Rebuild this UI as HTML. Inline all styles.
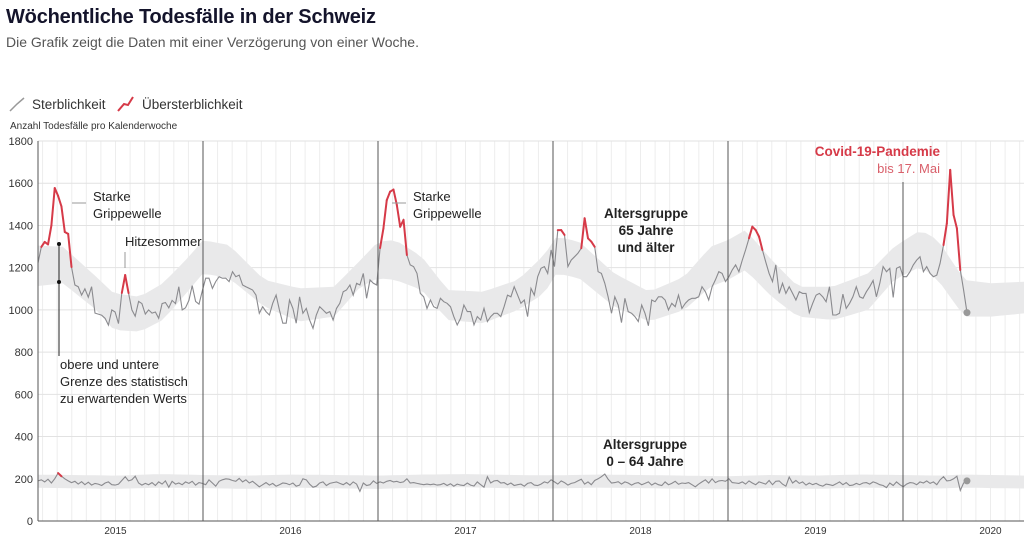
<!DOCTYPE html>
<html><head><meta charset="utf-8">
<style>
body{margin:0;background:#fff;width:1024px;height:540px;overflow:hidden;font-family:"Liberation Sans",sans-serif;}
svg{display:block}
</style></head>
<body>
<svg id="chart" width="1024" height="540" xmlns="http://www.w3.org/2000/svg" font-family="Liberation Sans, sans-serif">
<text x="6" y="23" font-size="20" font-weight="bold" fill="#14142b" textLength="370">Wöchentliche Todesfälle in der Schweiz</text>
<text x="6" y="47" font-size="14" fill="#555">Die Grafik zeigt die Daten mit einer Verzögerung von einer Woche.</text>
<g>
<path d="M10 111 L17 104 L24 98" stroke="#999" stroke-width="1.5" fill="none"/>
<text x="32" y="109" font-size="13.5" fill="#333">Sterblichkeit</text>
<path d="M118 111 L124 104 L128 105 L133 97" stroke="#d63a48" stroke-width="2" fill="none"/>
<text x="142" y="109" font-size="13.5" fill="#333">Übersterblichkeit</text>
</g>
<text x="10" y="129" font-size="10" fill="#333">Anzahl Todesfälle pro Kalenderwoche</text>
<g id="grid"></g>
<g id="bands"></g>
<g id="series"></g>
<g id="axes"></g>
<g font-size="13" fill="#222">
<line x1="72" y1="203" x2="86" y2="203" stroke="#999"/>
<text x="93" y="201">Starke<tspan x="93" dy="17">Grippewelle</tspan></text>
<line x1="392" y1="203" x2="406" y2="203" stroke="#999"/>
<text x="413" y="201">Starke<tspan x="413" dy="17">Grippewelle</tspan></text>
<text x="125" y="246">Hitzesommer</text>
<line x1="125" y1="252" x2="125" y2="268" stroke="#999"/>
<line x1="59" y1="244" x2="59" y2="356" stroke="#222"/>
<circle cx="59" cy="244" r="2" fill="#111"/><circle cx="59" cy="282" r="2" fill="#111"/>
<text x="60" y="369">obere und untere<tspan x="60" dy="17">Grenze des statistisch</tspan><tspan x="60" dy="17">zu erwartenden Werts</tspan></text>
<text x="646" y="218" text-anchor="middle" font-weight="bold" font-size="13.5">Altersgruppe<tspan x="646" dy="17">65 Jahre</tspan><tspan x="646" dy="17">und älter</tspan></text>
<text x="645" y="449" text-anchor="middle" font-weight="bold" font-size="13.5">Altersgruppe<tspan x="645" dy="17">0 – 64 Jahre</tspan></text>
<text x="940" y="156" text-anchor="end" font-weight="bold" font-size="13.5" fill="#d63a48">Covid-19-Pandemie</text>
<text x="940" y="173" text-anchor="end" font-size="13" fill="#d9606b">bis 17. Mai</text>
</g>
</svg>
<script>
const yTicks=[0,200,400,600,800,1000,1200,1400,1600,1800];
const years=[2015,2016,2017,2018,2019,2020];
const startTime=2015.057; // first week in data
const weeksPerYear=52.18;
const old=[1222,1298,1322,1310,1400,1577,1540,1490,1369,1360,1203,1118,1110,1070,1100,1060,1110,985,980,975,960,928,1000,990,935,1080,1165,1080,1000,970,1040,1030,980,1000,985,990,960,1030,1035,1010,1045,1030,1110,1000,1010,1045,1115,1040,1027,1090,1150,
1150,1102,1134,1157,1150,1150,1134,1181,1157,1165,1118,1110,1102,1094,1070,984,1015,992,976,1031,1070,1000,937,937,1047,1007,937,1062,984,1007,952,913,976,1015,1000,984,992,952,1007,1031,1086,1094,1118,1070,1126,1118,1173,1055,1142,1126,1118,1293,
1386,1520,1560,1570,1497,1394,1426,1260,1213,1205,1173,1078,1062,1007,1047,1015,1007,1055,1039,1031,1015,968,929,960,1023,992,992,929,968,952,1007,945,968,984,984,968,1015,1070,1062,1110,1070,1031,1047,968,1102,1070,1157,1197,1205,1173,1284,1205,
1378,1378,1355,1205,1236,1252,1268,1292,1434,1339,1323,1299,1181,1173,1126,1062,984,1062,1023,940,1055,992,984,968,945,1023,984,925,1047,1039,1062,1062,1047,1000,1031,1015,1070,1007,1031,1047,1055,1055,1062,1110,1086,1047,1110,1142,1181,1173,1134,1157,
1189,1213,1181,1236,1284,1339,1394,1378,1347,1284,1228,1173,1134,1213,1078,1126,1078,1110,1078,1047,1086,1078,1078,987,1031,1070,1078,1062,1039,1110,976,976,984,1075,1007,1031,1062,1110,1062,1055,1086,1110,1139,1062,1126,1205,1181,1197,1059,1197,1205,1157,
1157,1181,1213,1236,1252,1181,1205,1173,1157,1165,1221,1307,1410,1663,1450,1386,1189,1094,987];
const young=[190,195,185,198,180,200,227,212,200,190,182,188,175,186,172,184,170,178,175,168,180,185,172,170,175,192,210,190,195,212,180,170,178,172,182,168,185,175,190,160,188,175,180,172,185,178,188,170,182,178,172,
195,180,165,188,195,200,198,192,188,202,185,195,180,188,175,162,172,182,170,178,165,172,180,178,172,180,165,170,200,195,175,160,165,180,185,168,178,182,185,178,172,182,170,185,175,140,180,168,172,190,178,185,
180,188,192,185,188,182,185,200,180,182,178,175,172,175,172,175,170,172,178,168,176,165,175,170,168,180,170,166,185,172,160,210,180,190,192,180,182,172,180,168,172,175,165,178,182,170,168,175,185,180,195,185,
175,190,182,170,178,182,190,198,175,185,172,192,200,210,222,198,180,182,186,175,185,180,170,178,182,172,178,185,170,180,172,168,185,172,178,188,174,180,178,182,172,162,175,185,195,180,200,182,190,192,188,200,
182,180,178,185,175,190,180,172,185,180,175,192,172,188,190,175,165,208,180,192,178,185,170,180,172,178,170,165,175,172,168,176,185,172,182,168,170,178,172,180,182,175,185,180,172,168,158,180,168,185,172,162,
175,182,180,172,185,180,190,178,185,172,195,210,190,192,200,212,145,180,190];
const bandT=[2015.0,2015.2,2015.39,2015.49,2015.64,2015.77,2015.92,2016.0,2016.15,2016.35,2016.55,2016.75,2016.9,2017.0,2017.1,2017.25,2017.4,2017.6,2017.8,2017.95,2018.02,2018.15,2018.35,2018.55,2018.75,2018.9,2019.0,2019.1,2019.25,2019.4,2019.6,2019.8,2019.95,2020.1,2020.2,2020.35,2020.5,2020.7];
const bandHi=[1307,1299,1157,1078,1062,1126,1252,1331,1307,1142,1102,1110,1236,1323,1331,1252,1094,1086,1142,1260,1347,1323,1173,1086,1157,1299,1331,1378,1236,1110,1110,1173,1299,1378,1331,1142,1126,1134];
const bandLo=[1108,1126,1000,905,897,952,1094,1173,1150,1015,945,968,1110,1150,1142,1094,952,937,1000,1078,1173,1150,1015,945,1000,1110,1142,1189,1062,968,952,1000,1142,1205,1142,968,968,984];
const youngHi=[220,218,215,222,218,215,220,218,215,220,222,218,216,220,218,215,212,218,215,220,218,215,220,218,215];
const youngLo=[158,155,152,158,156,152,158,155,152,158,160,155,154,158,156,152,150,156,152,158,156,154,158,156,154];
const youngBandT=[2015.0,2015.25,2015.5,2015.75,2016.0,2016.25,2016.5,2016.75,2017.0,2017.25,2017.5,2017.75,2018.0,2018.25,2018.5,2018.75,2019.0,2019.25,2019.5,2019.75,2020.0,2020.2,2020.35,2020.5,2020.7];

const NS='http://www.w3.org/2000/svg';
const X0=28, PXY=175, Y0=521, PXV=380/1800, LEFT=38, RIGHT=1024;
const xs=t=>X0+(t-2015)*PXY;
const ys=v=>Y0-v*PXV;
const weekT=i=>startTime+i/weeksPerYear;
function mk(tag,attrs,parent){const e=document.createElementNS(NS,tag);for(const k in attrs)e.setAttribute(k,attrs[k]);parent.appendChild(e);return e;}
function interp(T,V,t){if(t<=T[0])return V[0];for(let i=1;i<T.length;i++){if(t<=T[i]){const f=(t-T[i-1])/(T[i]-T[i-1]);return V[i-1]+f*(V[i]-V[i-1]);}}return V[V.length-1];}
const grid=document.getElementById('grid'),bands=document.getElementById('bands'),series=document.getElementById('series'),axes=document.getElementById('axes');
for(let k=0;k<12*6;k++){const x=xs(2015+k/12);if(x<=LEFT||x>=RIGHT)continue;
 const l=mk('line',{x1:x,x2:x,y1:141,y2:Y0,stroke:'#ededed','stroke-width':1},grid);
 
 }
yTicks.forEach(v=>{const l=mk('line',{x1:LEFT,x2:RIGHT,y1:ys(v),y2:ys(v),stroke:'#e2e2e2','stroke-width':1},grid);
 
 
 const t=mk('text',{x:33,y:ys(v)+4,'text-anchor':'end','font-size':11,fill:'#333'},axes);t.textContent=v;
 
 });
function band(T,H,L,name){const n=120;const t0=(LEFT-X0)/PXY+2015,t1=(RIGHT-X0)/PXY+2015;const pts=[];
 for(let i=0;i<=n;i++){const t=t0+(t1-t0)*i/n;pts.push([xs(t),ys(interp(T,H,t))]);}
 for(let i=n;i>=0;i--){const t=t0+(t1-t0)*i/n;pts.push([xs(t),ys(interp(T,L,t))]);}
 const d='M'+pts.map(p=>p[0].toFixed(1)+' '+p[1].toFixed(1)).join('L')+'Z';
 const p=mk('path',{d:d,fill:'#e9e9ea'},bands);
 
 }
band(bandT,bandHi,bandLo,'expected-band-65plus');
band(youngBandT,youngHi,youngLo,'expected-band-0-64');
years.forEach(y=>{const x=xs(y);
 if(y>2015&&x<RIGHT){const l=mk('line',{x1:x,x2:x,y1:y===2020?182:141,y2:Y0,stroke:'#555','stroke-width':1},axes);
  
  }
 const t=mk('text',{x:x+PXY/2,y:534,'text-anchor':'middle','font-size':10,fill:'#333'},axes);t.textContent=y;
 
 });
const ax=mk('line',{x1:LEFT,x2:LEFT,y1:141,y2:Y0,stroke:'#555'},axes);


const bx=mk('line',{x1:LEFT,x2:RIGHT,y1:Y0,y2:Y0,stroke:'#555'},axes);


function drawSeries(vals,T,H,name){
 const g=mk('g',{},series);
 
 
 let d='';vals.forEach((v,i)=>{d+=(i?'L':'M')+xs(weekT(i)).toFixed(1)+' '+ys(v).toFixed(1);});
 mk('path',{d:d,stroke:'#8a8a8e','stroke-width':1.1,fill:'none'},g);
 for(let i=1;i<vals.length;i++){const ta=weekT(i-1),tb=weekT(i);
  const ea=vals[i-1]>interp(T,H,ta),eb=vals[i]>interp(T,H,tb);
  if(ea||eb){if(!(ea&&eb)&&((vals[i-1]+vals[i])/2<=(interp(T,H,ta)+interp(T,H,tb))/2))continue;
   const s=mk('line',{x1:xs(ta),y1:ys(vals[i-1]),x2:xs(tb),y2:ys(vals[i]),stroke:'#d63a48','stroke-width':2,'stroke-linecap':'round'},g);
   
   }}
 const n=vals.length-1;
 const c=mk('circle',{cx:xs(weekT(n)),cy:ys(vals[n]),r:3.5,fill:'#999'},g);
 
 }
drawSeries(old,bandT,bandHi,'series-65plus');
drawSeries(young,youngBandT,youngHi,'series-0-64');
</script>
</body></html>
